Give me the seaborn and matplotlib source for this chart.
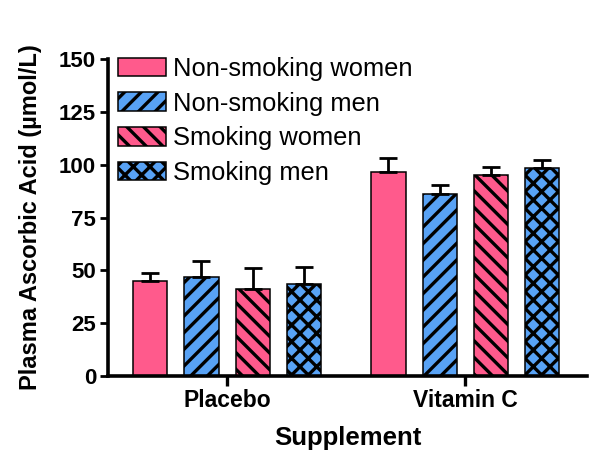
import matplotlib
matplotlib.use("Agg")
import matplotlib.pyplot as plt
import seaborn as sns
import pandas as pd
import numpy as np

supplements = ["Placebo", "Vitamin C"]
groups = ["Non-smoking women", "Non-smoking men", "Smoking women", "Smoking men"]
# means per group, ordered by supplement
means = {
    "Non-smoking women": [45.2, 96.6],
    "Non-smoking men": [46.8, 86.4],
    "Smoking women": [41.4, 95.2],
    "Smoking men": [43.6, 98.3],
}
errors = {
    "Non-smoking women": [3.8, 6.4],
    "Non-smoking men": [7.8, 4.0],
    "Smoking women": [9.6, 4.0],
    "Smoking men": [8.0, 4.2],
}
y_ticks = [0, 25, 50, 75, 100, 125, 150]

pink = "#FF5A8C"
blue = "#58A2F5"
palette = [pink, blue, pink, blue]
hatches = ["", "//", "\\\\", "xx"]

sns.set_style("ticks")
plt.rcParams["font.family"] = ["Liberation Sans", "DejaVu Sans"]
plt.rcParams["hatch.linewidth"] = 2.4
plt.rcParams["hatch.color"] = "black"
plt.rcParams["text.color"] = "black"
plt.rcParams["axes.labelcolor"] = "black"
plt.rcParams["xtick.color"] = "black"
plt.rcParams["ytick.color"] = "black"
plt.rcParams["axes.edgecolor"] = "black"

rows = []
for g in groups:
    for s, m, e in zip(supplements, means[g], errors[g]):
        rows.append({"Supplement": s, "Group": g, "Value": m, "Err": e})
df = pd.DataFrame(rows)

fig = plt.figure(figsize=(6.0, 4.63), dpi=100)
ax = fig.add_axes([0.18, 0.188, 0.798, 0.684])

sns.barplot(data=df, x="Supplement", y="Value", hue="Group", order=supplements,
            hue_order=groups, palette=palette, errorbar=None, width=0.86, gap=0.33,
            edgecolor="black", linewidth=1.1, ax=ax, saturation=1)

# apply hatches and error bars per hue container
for ci, (cont, g) in enumerate(zip(ax.containers, groups)):
    xs, tops = [], []
    for bar in cont:
        bar.set_hatch(hatches[ci])
        bar.set_edgecolor("black")
        xs.append(bar.get_x() + bar.get_width() / 2)
        tops.append(bar.get_height())
    errs = errors[g]
    ax.errorbar(xs, tops, yerr=[np.zeros(len(errs)), errs], fmt="none",
                ecolor="black", elinewidth=2.0, capsize=6.8, capthick=2.0, zorder=1)

ax.set_ylim(0, 150)
ax.set_xlim(-0.5, 1.51)
ax.set_yticks(y_ticks)
ax.set_yticklabels([str(t) for t in y_ticks], fontsize=16, fontweight="bold")
ax.set_xticks(range(len(supplements)))
ax.set_xticklabels(supplements, fontsize=16.5, fontweight="bold")
ax.set_xlabel("Supplement", fontsize=18.5, fontweight="bold", labelpad=10)
ax.set_ylabel("Plasma Ascorbic Acid (µmol/L)", fontsize=17, fontweight="bold", labelpad=12)

for sp in ["top", "right"]:
    ax.spines[sp].set_visible(False)
for sp in ["left", "bottom"]:
    ax.spines[sp].set_linewidth(2.6)
ax.tick_params(axis="y", direction="out", length=6, width=2.0, pad=2.5)
ax.tick_params(axis="x", direction="out", length=7.5, width=2.4, pad=2)

leg = ax.legend(loc="upper left", bbox_to_anchor=(0.0, 1.04), frameon=False,
                fontsize=18.4, handlelength=1.85, handleheight=0.75,
                handletextpad=0.28, labelspacing=0.42, borderaxespad=0.2,
                borderpad=0.2)
for h, ht in zip(leg.get_patches(), hatches):
    h.set_hatch(ht)
    h.set_edgecolor("black")

fig.savefig("out.png", dpi=100)
